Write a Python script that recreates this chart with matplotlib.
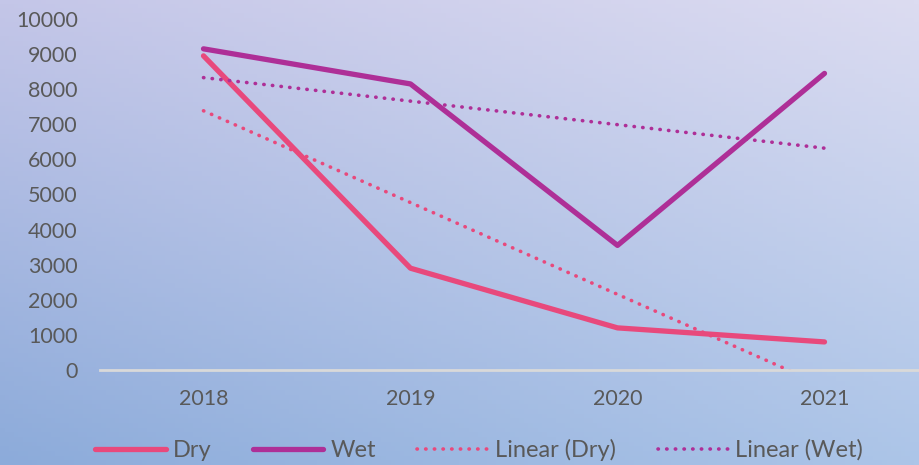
import matplotlib.pyplot as plt
import numpy as np

years = ["2018", "2019", "2020", "2021"]
dry = [8950, 2900, 1200, 800]
wet = [9150, 8150, 3550, 8450]

pink = "#E8497C"
purple = "#AE2F97"
txt = "#595959"

plt.rcParams['font.family'] = ['Lato', 'DejaVu Sans']

fig = plt.figure(figsize=(9.19, 4.65), dpi=100)

# background gradient (lavender top-right -> blue bottom-left)
bg = fig.add_axes([0, 0, 1, 1], zorder=0)
bg.axis("off")
gx, gy = np.meshgrid(np.linspace(0, 1, 200), np.linspace(0, 1, 100))
tl = np.array([196, 198, 232]) / 255
tr = np.array([220, 220, 241]) / 255
bl = np.array([140, 171, 218]) / 255
br = np.array([172, 197, 232]) / 255
img = (tl * ((1 - gx) * (1 - gy))[..., None] + tr * (gx * (1 - gy))[..., None]
       + bl * ((1 - gx) * gy)[..., None] + br * (gx * gy)[..., None])
bg.imshow(img, aspect="auto", extent=[0, 1, 0, 1])

ax = fig.add_axes([100 / 919, 95 / 465, 819 / 919, 351 / 465], zorder=1)
ax.patch.set_alpha(0)
x = np.arange(len(years))

ax.plot(x, dry, color=pink, lw=3.8, solid_capstyle="round", label="Dry")
ax.plot(x, wet, color=purple, lw=3.8, solid_capstyle="round", label="Wet")

# linear trendlines
for vals, col, name in [(dry, pink, "Linear (Dry)"), (wet, purple, "Linear (Wet)")]:
    k, b = np.polyfit(x, vals, 1)
    ax.plot(x, k * x + b, color=col, lw=2.6, linestyle=(0, (0.1, 2.3)),
            dash_capstyle="round", label=name)

ax.set_xlim(-0.5, -0.5 + 819 / 207)
ax.set_ylim(0, 10000)
ax.set_yticks(range(0, 10001, 1000))
ax.set_xticks(x)
ax.set_xticklabels(years)
for s in ["top", "right", "left"]:
    ax.spines[s].set_visible(False)
ax.spines["bottom"].set_color("#D9D9D9")
ax.spines["bottom"].set_linewidth(2)
ax.tick_params(length=0, labelsize=15.5, colors=txt)
ax.tick_params(axis="y", pad=16)
ax.tick_params(axis="x", pad=14)

fig.legend(loc="center", bbox_to_anchor=(479 / 919, 15 / 465), ncol=4, frameon=False,
           fontsize=17, labelcolor=txt, handlelength=3.0, columnspacing=1.75,
           handletextpad=0.3)

fig.savefig("out.png", dpi=100)
